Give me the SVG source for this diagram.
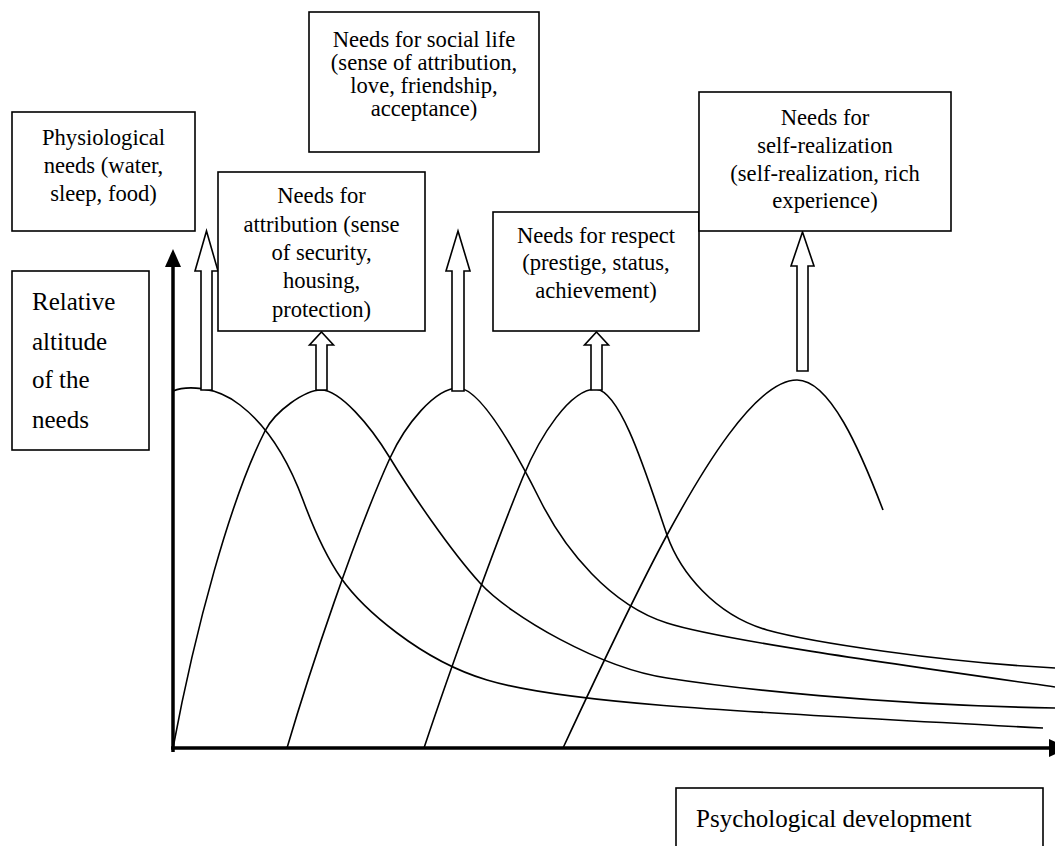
<svg xmlns="http://www.w3.org/2000/svg" width="1055" height="846" viewBox="0 0 1055 846">
<style>
.box{fill:#fff;stroke:#000;stroke-width:1.6}
.t{font-size:22.6px;fill:#000;text-anchor:middle}
.tl{font-size:25px;fill:#000}
.curve{fill:none;stroke:#000;stroke-width:1.6}
.barrow{fill:#fff;stroke:#000;stroke-width:1.6;stroke-linejoin:miter}
.axis{stroke:#000;stroke-width:3.5;fill:none}
</style>
<rect width="1055" height="846" fill="#fff"/>

<g id="connectors">
  <g id="axes">
    <line class="axis" x1="173" y1="752" x2="173" y2="264"/>
    <polygon points="173,249 165,267 181,267" fill="#000"/>
    <line class="axis" x1="171" y1="748" x2="1052" y2="748"/>
    <polygon points="1068,748 1049,739 1049,757" fill="#000"/>
  </g>
  <g id="curves">
    <path id="c1" class="curve" d="M173,391 C185,386 215,385 240,405 C270,428 290,465 303,500 C313,527 325,555 341,578 C362,608 420,660 487,680 C560,702 700,710 1043,728"/>
    <path id="c2" class="curve" d="M173,748 C195,630 230,500 265,431 C275,411 305,390 321,390 C340,390 370,425 390,458 C410,491 450,550 480,583 C510,616 600,668 667,678 C730,688 880,705 1055,708"/>
    <path id="c3" class="curve" d="M287,748 C310,670 355,535 390,458 C405,425 435,388 458,388 C480,388 515,450 540,500 C565,550 610,605 667,623 C720,640 900,665 1055,687"/>
    <path id="c4" class="curve" d="M424,748 C450,670 495,545 523,477 C540,436 570,389 596,389 C622,392 648,480 667,535 C680,572 715,615 767,630 C810,642 940,662 1055,668"/>
    <path id="c5" class="curve" d="M563,748 C590,690 640,585 667,535 C700,474 755,380 797,380 C830,380 860,450 883,510"/>
  </g>
  <g id="block-arrows">
    <polygon class="barrow" points="206.5,231 218,271 212,271 212,390 201,390 201,271 195,271"/>
    <polygon class="barrow" points="321.5,332 333.5,345 327,345 327,390 316,390 316,345 309.5,345"/>
    <polygon class="barrow" points="458,231 470,271 464,271 464,391 452,391 452,271 446,271"/>
    <polygon class="barrow" points="596.5,332 608.5,345 602,345 602,390 591,390 591,345 584.5,345"/>
    <polygon class="barrow" points="802.5,232 814,266 808,266 808,371 797,371 797,266 791,266"/>
  </g>
</g>

<g font-family="'Liberation Serif', 'Times New Roman', 'DejaVu Serif', serif">
<g id="node-physiological">
  <rect class="box" x="12" y="112" width="183" height="119"/>
  <text class="t" x="103.5" y="145">Physiological</text>
  <text class="t" x="103.5" y="173">needs (water,</text>
  <text class="t" x="103.5" y="201">sleep, food)</text>
</g>

<g id="node-social">
  <rect class="box" x="309" y="12" width="230" height="140"/>
  <text class="t" x="424" y="47">Needs for social life</text>
  <text class="t" x="424" y="70">(sense of attribution,</text>
  <text class="t" x="424" y="93">love, friendship,</text>
  <text class="t" x="424" y="116">acceptance)</text>
</g>

<g id="node-attribution">
  <rect class="box" x="218" y="172" width="207" height="159"/>
  <text class="t" x="321.5" y="203">Needs for</text>
  <text class="t" x="321.5" y="232">attribution (sense</text>
  <text class="t" x="321.5" y="260">of security,</text>
  <text class="t" x="321.5" y="288">housing,</text>
  <text class="t" x="321.5" y="317">protection)</text>
</g>

<g id="node-respect">
  <rect class="box" x="493" y="212" width="206" height="119"/>
  <text class="t" x="596" y="243">Needs for respect</text>
  <text class="t" x="596" y="270">(prestige, status,</text>
  <text class="t" x="596" y="298">achievement)</text>
</g>

<g id="node-self">
  <rect class="box" x="699" y="92" width="252" height="139"/>
  <text class="t" x="825" y="125">Needs for</text>
  <text class="t" x="825" y="153">self-realization</text>
  <text class="t" x="825" y="181">(self-realization, rich</text>
  <text class="t" x="825" y="208">experience)</text>
</g>

<g id="node-yaxis-label">
  <rect class="box" x="12" y="271" width="137" height="179"/>
  <text class="tl" x="32" y="310">Relative</text>
  <text class="tl" x="32" y="350">altitude</text>
  <text class="tl" x="32" y="388">of the</text>
  <text class="tl" x="32" y="428">needs</text>
</g>

<g id="node-xaxis-label">
  <rect class="box" x="676" y="788" width="367" height="80"/>
  <text class="tl" x="696" y="827">Psychological development</text>
</g>
</g>
</svg>
